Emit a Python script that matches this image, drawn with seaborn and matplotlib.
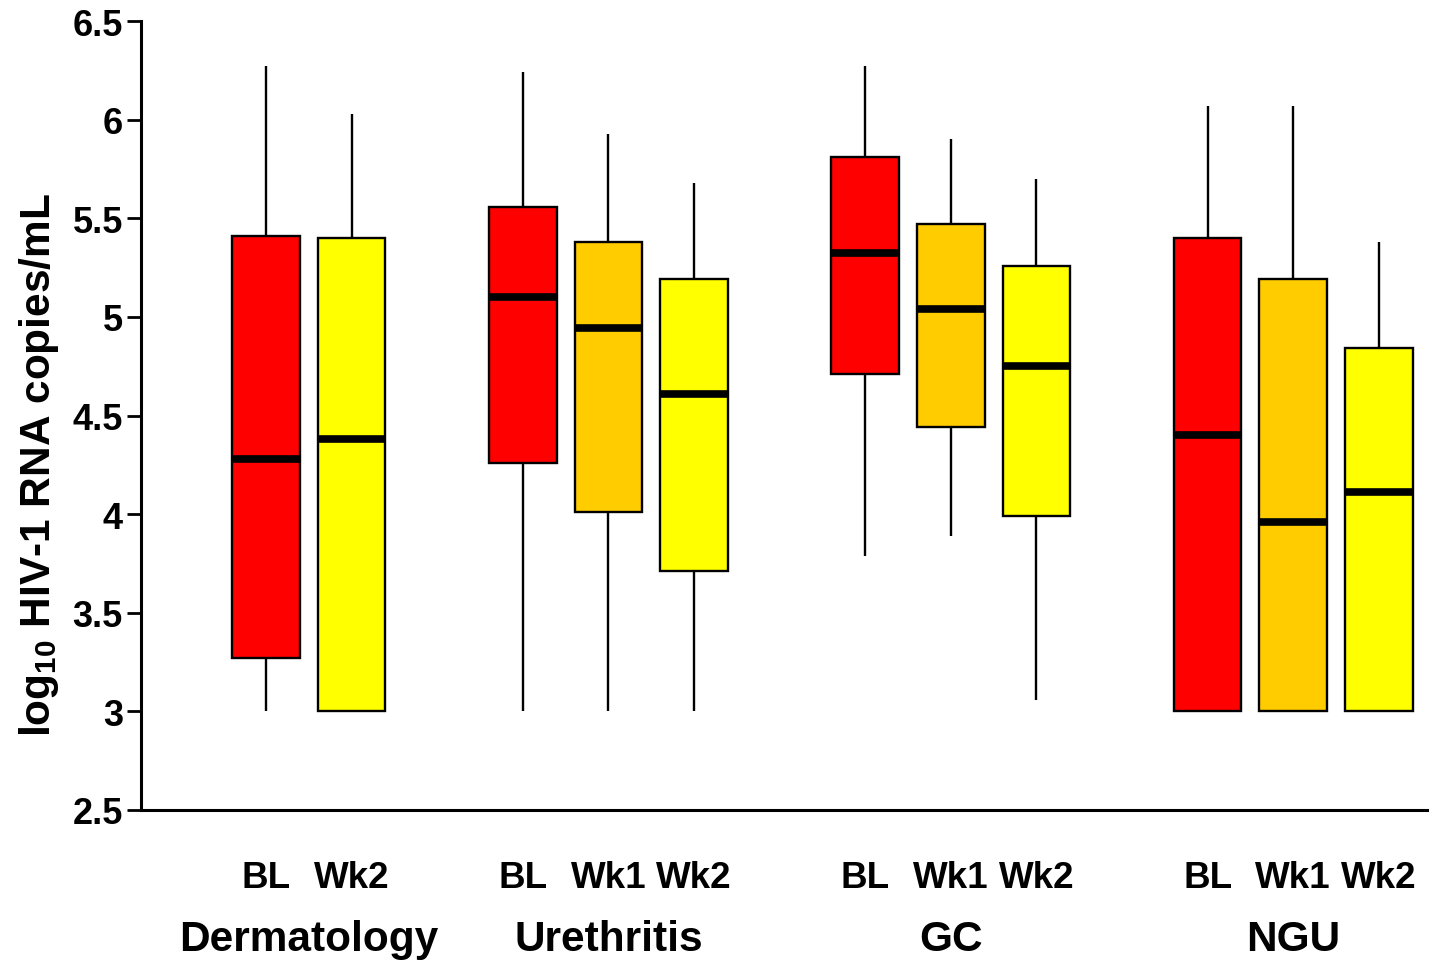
import numpy as np
import pandas as pd
import seaborn as sns
from matplotlib import pyplot as plt
from matplotlib import transforms

# Five-number summaries: min, Q1, median, Q3, max
groups = ["Dermatology", "Urethritis", "GC", "NGU"]
visits = [["BL", "Wk2"], ["BL", "Wk1", "Wk2"], ["BL", "Wk1", "Wk2"], ["BL", "Wk1", "Wk2"]]
summaries = [
    [[3.00, 3.27, 4.28, 5.41, 6.27], [3.00, 3.00, 4.38, 5.40, 6.03]],
    [[3.00, 4.26, 5.10, 5.56, 6.24], [3.00, 4.01, 4.945, 5.38, 5.93], [3.00, 3.71, 4.61, 5.19, 5.68]],
    [[3.79, 4.71, 5.325, 5.81, 6.27], [3.89, 4.44, 5.04, 5.47, 5.90], [3.06, 3.99, 4.75, 5.26, 5.70]],
    [[3.00, 3.00, 4.40, 5.40, 6.07], [3.00, 3.00, 3.96, 5.19, 6.07], [3.00, 3.00, 4.11, 4.84, 5.38]],
]
visit_colors = {"BL": "#FF0000", "Wk1": "#FFCC00", "Wk2": "#FFFF00"}

# long form table, one slot per box, one empty slot between groups
rows = []
order = []
tick_labels = []
palette = {}
for gi, (g, vs, ss) in enumerate(zip(groups, visits, summaries)):
    if gi > 0:
        order.append(f"gap{gi}")
        tick_labels.append("")
    for v, s in zip(vs, ss):
        key = f"{g} {v}"
        order.append(key)
        tick_labels.append(v)
        palette[key] = visit_colors[v]
        for val in s:
            rows.append({"slot": key, "value": val})
df = pd.DataFrame(rows)

sns.set_style("ticks")
plt.rcParams['font.family'] = ['Liberation Sans', 'DejaVu Sans']
plt.rcParams['font.weight'] = 'bold'
plt.rcParams['mathtext.fontset'] = 'custom'
plt.rcParams['mathtext.rm'] = 'Liberation Sans:bold'
plt.rcParams['mathtext.default'] = 'rm'
for k in ['text.color', 'axes.labelcolor', 'xtick.color', 'ytick.color', 'axes.edgecolor']:
    plt.rcParams[k] = 'black'

fig = plt.figure(figsize=(14.47, 9.62), dpi=100)
ax = fig.add_axes([0.0974, 0.157, 0.8886, 0.820])

sns.boxplot(data=df, x="slot", y="value", hue="slot", order=order, palette=palette,
            legend=False, width=0.79, whis=(0, 100), showcaps=False, saturation=1,
            linecolor="black", linewidth=1.7,
            medianprops=dict(linewidth=5.5, color="black"),
            whiskerprops=dict(linewidth=1.7), ax=ax)

ax.set_ylim(2.5, 6.5)
ax.set_xlim(-1.46, len(order) - 1 + 0.56)
ax.set_yticks([2.5, 3, 3.5, 4, 4.5, 5, 5.5, 6, 6.5])
ax.set_yticklabels(["2.5", "3", "3.5", "4", "4.5", "5", "5.5", "6", "6.5"])
ax.set_xticks(range(len(order)))
ax.set_xticklabels(tick_labels)
ax.tick_params(axis='y', labelsize=26, length=10, width=2, pad=3)
ax.tick_params(axis='x', labelsize=26.5, length=0, pad=36)
ax.set_xlabel("")
ax.set_ylabel(r"log$_{10}$ HIV-1 RNA copies/mL", fontsize=30.5, fontweight='bold')
ax.yaxis.set_label_coords(-0.062, 0.438)
sns.despine(ax=ax)
for sp in ["left", "bottom"]:
    ax.spines[sp].set_linewidth(2.2)

# group names under the visit labels
trans = transforms.blended_transform_factory(ax.transData, ax.transAxes)
for g, vs in zip(groups, visits):
    pos = [order.index(f"{g} {v}") for v in vs]
    ax.text(np.mean(pos), -0.163, g, transform=trans, ha='center', va='center',
            fontsize=30.5, fontweight='bold')

fig.savefig("out.png", dpi=100)
